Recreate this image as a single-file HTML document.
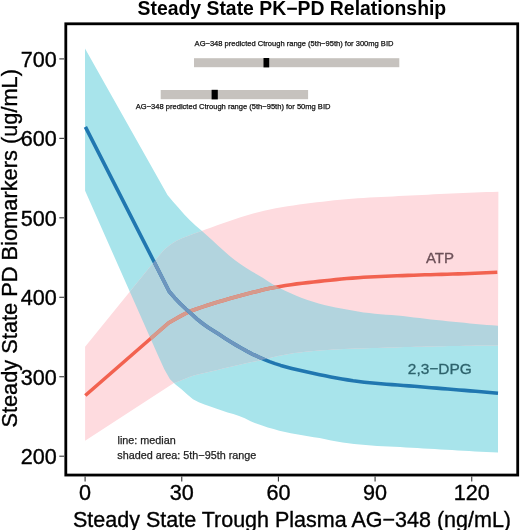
<!DOCTYPE html>
<html><head><meta charset="utf-8"><style>
html,body{margin:0;padding:0;background:#fff;width:520px;height:530px;overflow:hidden}
svg{display:block} #w{will-change:transform;width:520px;height:530px}
text{font-family:'Liberation Sans',sans-serif}
.tk{font-size:21.6px;fill:#000;stroke:#000;stroke-width:0.35px}
.ttl{font-size:19.4px;font-weight:bold;fill:#000}
.ax{font-size:21.5px;fill:#000;stroke:#000;stroke-width:0.35px}
.ann{font-size:7.55px;fill:#111;stroke:#111;stroke-width:0.25px}
.leg{font-size:10.8px;fill:#222;stroke:#222;stroke-width:0.25px}
.lab{font-size:15px;stroke-width:0.3px}
</style></head><body><div id="w">
<svg width="520" height="530" viewBox="0 0 520 530">
<defs>
<clipPath id="cB"><polygon points="85.0,48.6 167.5,195.1 173.1,201.7 178.7,208.1 184.3,214.4 189.9,220.3 195.5,225.4 201.1,230.2 206.7,235.2 212.3,240.3 217.9,245.4 223.5,250.6 229.1,255.6 234.7,260.0 240.3,264.0 245.9,267.8 251.5,271.3 257.1,274.4 262.7,277.8 268.3,281.4 273.9,284.9 279.5,288.0 285.1,290.7 290.7,293.3 296.3,295.7 301.9,298.1 307.5,300.0 313.1,301.8 318.7,303.5 324.3,304.9 329.9,306.3 335.6,307.5 341.2,308.6 346.8,309.6 352.4,310.5 358.0,311.5 363.6,312.4 369.2,313.1 374.8,313.8 380.4,314.2 386.0,314.7 391.6,315.1 397.2,315.5 402.8,316.1 408.4,316.7 414.0,317.4 419.6,318.0 425.2,318.7 430.8,319.4 436.4,320.0 442.0,320.6 447.6,321.2 453.2,321.7 458.8,322.3 464.4,322.8 470.0,323.4 475.6,323.9 481.2,324.4 486.8,324.9 492.4,325.3 498.0,325.8 498.0,452.5 492.2,452.2 486.5,451.9 480.7,451.7 475.0,451.4 469.2,451.1 463.5,450.7 457.7,450.4 452.0,450.1 446.2,449.8 440.5,449.4 434.7,449.1 428.9,448.7 423.2,448.4 417.4,448.1 411.7,447.7 405.9,447.4 400.2,447.1 394.4,446.8 388.7,446.5 382.9,446.3 377.2,446.0 371.4,445.6 365.7,445.1 359.9,444.6 354.1,444.0 348.4,443.3 342.6,442.4 336.9,441.5 331.1,440.4 325.4,439.2 319.6,438.1 313.9,437.2 308.1,436.3 302.4,435.3 296.6,434.3 290.8,433.3 285.1,432.1 279.3,430.7 273.6,429.1 267.8,427.4 262.1,425.6 256.3,423.6 250.6,421.2 244.8,418.3 239.1,415.9 233.3,414.0 227.6,412.4 221.8,410.5 216.0,408.6 210.3,406.6 204.5,404.6 198.8,402.3 193.0,399.2 187.3,394.4 181.5,389.3 175.8,384.8 170.0,379.3 164.3,369.3 158.5,356.4 85.1,190.8"/></clipPath>
<clipPath id="cP"><polygon points="85.1,346.8 152.7,263.5 158.6,256.2 164.4,249.6 170.3,244.7 176.1,241.1 182.0,238.3 187.9,236.0 193.7,233.8 199.6,231.7 205.4,229.6 211.3,227.4 217.2,225.3 223.0,223.2 228.9,221.2 234.7,219.2 240.6,217.3 246.4,215.5 252.3,213.8 258.2,212.2 264.0,210.8 269.9,209.5 275.7,208.3 281.6,207.3 287.5,206.3 293.3,205.4 299.2,204.6 305.0,203.8 310.9,203.1 316.8,202.3 322.6,201.7 328.5,201.0 334.3,200.3 340.2,199.7 346.1,199.2 351.9,198.7 357.8,198.3 363.6,197.9 369.5,197.6 375.4,197.3 381.2,196.9 387.1,196.7 392.9,196.4 398.8,196.1 404.7,195.8 410.5,195.6 416.4,195.3 422.2,195.0 428.1,194.7 433.9,194.3 439.8,194.0 445.7,193.7 451.5,193.5 457.4,193.2 463.2,193.0 469.1,192.8 475.0,192.5 480.8,192.3 486.7,192.1 492.5,192.0 498.4,191.8 498.0,345.4 492.5,345.4 487.0,345.5 481.5,345.6 476.0,345.6 470.5,345.7 465.0,345.8 459.5,345.9 454.0,346.0 448.5,346.1 443.0,346.2 437.5,346.3 432.0,346.4 426.5,346.6 421.0,346.7 415.5,346.8 410.0,347.0 404.5,347.1 399.0,347.2 393.5,347.4 388.0,347.6 382.5,347.8 377.0,347.9 371.5,348.1 366.0,348.3 360.5,348.4 355.0,348.6 349.5,348.8 344.0,349.0 338.5,349.3 333.0,349.6 327.5,349.9 322.0,350.3 316.5,350.7 311.0,351.2 305.5,351.7 300.0,352.4 294.5,353.1 289.0,353.9 283.5,354.9 278.0,355.9 272.5,357.3 267.0,358.7 261.5,360.0 256.0,361.2 250.5,362.3 245.0,363.5 239.5,364.7 234.0,366.0 228.5,367.2 223.0,368.5 217.5,369.9 212.0,371.3 206.5,372.6 201.0,373.8 195.5,375.1 190.0,376.8 184.5,379.1 179.0,381.2 173.5,383.2 85.1,440.8"/></clipPath>
</defs>
<rect width="520" height="530" fill="#fff"/>
<text x="137.5" y="14.5" class="ttl">Steady State PK−PD Relationship</text>
<polygon points="85.0,48.6 167.5,195.1 173.1,201.7 178.7,208.1 184.3,214.4 189.9,220.3 195.5,225.4 201.1,230.2 206.7,235.2 212.3,240.3 217.9,245.4 223.5,250.6 229.1,255.6 234.7,260.0 240.3,264.0 245.9,267.8 251.5,271.3 257.1,274.4 262.7,277.8 268.3,281.4 273.9,284.9 279.5,288.0 285.1,290.7 290.7,293.3 296.3,295.7 301.9,298.1 307.5,300.0 313.1,301.8 318.7,303.5 324.3,304.9 329.9,306.3 335.6,307.5 341.2,308.6 346.8,309.6 352.4,310.5 358.0,311.5 363.6,312.4 369.2,313.1 374.8,313.8 380.4,314.2 386.0,314.7 391.6,315.1 397.2,315.5 402.8,316.1 408.4,316.7 414.0,317.4 419.6,318.0 425.2,318.7 430.8,319.4 436.4,320.0 442.0,320.6 447.6,321.2 453.2,321.7 458.8,322.3 464.4,322.8 470.0,323.4 475.6,323.9 481.2,324.4 486.8,324.9 492.4,325.3 498.0,325.8 498.0,452.5 492.2,452.2 486.5,451.9 480.7,451.7 475.0,451.4 469.2,451.1 463.5,450.7 457.7,450.4 452.0,450.1 446.2,449.8 440.5,449.4 434.7,449.1 428.9,448.7 423.2,448.4 417.4,448.1 411.7,447.7 405.9,447.4 400.2,447.1 394.4,446.8 388.7,446.5 382.9,446.3 377.2,446.0 371.4,445.6 365.7,445.1 359.9,444.6 354.1,444.0 348.4,443.3 342.6,442.4 336.9,441.5 331.1,440.4 325.4,439.2 319.6,438.1 313.9,437.2 308.1,436.3 302.4,435.3 296.6,434.3 290.8,433.3 285.1,432.1 279.3,430.7 273.6,429.1 267.8,427.4 262.1,425.6 256.3,423.6 250.6,421.2 244.8,418.3 239.1,415.9 233.3,414.0 227.6,412.4 221.8,410.5 216.0,408.6 210.3,406.6 204.5,404.6 198.8,402.3 193.0,399.2 187.3,394.4 181.5,389.3 175.8,384.8 170.0,379.3 164.3,369.3 158.5,356.4 85.1,190.8" fill="rgb(168,228,235)"/>
<polygon points="85.1,346.8 152.7,263.5 158.6,256.2 164.4,249.6 170.3,244.7 176.1,241.1 182.0,238.3 187.9,236.0 193.7,233.8 199.6,231.7 205.4,229.6 211.3,227.4 217.2,225.3 223.0,223.2 228.9,221.2 234.7,219.2 240.6,217.3 246.4,215.5 252.3,213.8 258.2,212.2 264.0,210.8 269.9,209.5 275.7,208.3 281.6,207.3 287.5,206.3 293.3,205.4 299.2,204.6 305.0,203.8 310.9,203.1 316.8,202.3 322.6,201.7 328.5,201.0 334.3,200.3 340.2,199.7 346.1,199.2 351.9,198.7 357.8,198.3 363.6,197.9 369.5,197.6 375.4,197.3 381.2,196.9 387.1,196.7 392.9,196.4 398.8,196.1 404.7,195.8 410.5,195.6 416.4,195.3 422.2,195.0 428.1,194.7 433.9,194.3 439.8,194.0 445.7,193.7 451.5,193.5 457.4,193.2 463.2,193.0 469.1,192.8 475.0,192.5 480.8,192.3 486.7,192.1 492.5,192.0 498.4,191.8 498.0,345.4 492.5,345.4 487.0,345.5 481.5,345.6 476.0,345.6 470.5,345.7 465.0,345.8 459.5,345.9 454.0,346.0 448.5,346.1 443.0,346.2 437.5,346.3 432.0,346.4 426.5,346.6 421.0,346.7 415.5,346.8 410.0,347.0 404.5,347.1 399.0,347.2 393.5,347.4 388.0,347.6 382.5,347.8 377.0,347.9 371.5,348.1 366.0,348.3 360.5,348.4 355.0,348.6 349.5,348.8 344.0,349.0 338.5,349.3 333.0,349.6 327.5,349.9 322.0,350.3 316.5,350.7 311.0,351.2 305.5,351.7 300.0,352.4 294.5,353.1 289.0,353.9 283.5,354.9 278.0,355.9 272.5,357.3 267.0,358.7 261.5,360.0 256.0,361.2 250.5,362.3 245.0,363.5 239.5,364.7 234.0,366.0 228.5,367.2 223.0,368.5 217.5,369.9 212.0,371.3 206.5,372.6 201.0,373.8 195.5,375.1 190.0,376.8 184.5,379.1 179.0,381.2 173.5,383.2 85.1,440.8" fill="rgb(254,219,223)"/>
<polygon points="85.1,346.8 152.7,263.5 158.6,256.2 164.4,249.6 170.3,244.7 176.1,241.1 182.0,238.3 187.9,236.0 193.7,233.8 199.6,231.7 205.4,229.6 211.3,227.4 217.2,225.3 223.0,223.2 228.9,221.2 234.7,219.2 240.6,217.3 246.4,215.5 252.3,213.8 258.2,212.2 264.0,210.8 269.9,209.5 275.7,208.3 281.6,207.3 287.5,206.3 293.3,205.4 299.2,204.6 305.0,203.8 310.9,203.1 316.8,202.3 322.6,201.7 328.5,201.0 334.3,200.3 340.2,199.7 346.1,199.2 351.9,198.7 357.8,198.3 363.6,197.9 369.5,197.6 375.4,197.3 381.2,196.9 387.1,196.7 392.9,196.4 398.8,196.1 404.7,195.8 410.5,195.6 416.4,195.3 422.2,195.0 428.1,194.7 433.9,194.3 439.8,194.0 445.7,193.7 451.5,193.5 457.4,193.2 463.2,193.0 469.1,192.8 475.0,192.5 480.8,192.3 486.7,192.1 492.5,192.0 498.4,191.8 498.0,345.4 492.5,345.4 487.0,345.5 481.5,345.6 476.0,345.6 470.5,345.7 465.0,345.8 459.5,345.9 454.0,346.0 448.5,346.1 443.0,346.2 437.5,346.3 432.0,346.4 426.5,346.6 421.0,346.7 415.5,346.8 410.0,347.0 404.5,347.1 399.0,347.2 393.5,347.4 388.0,347.6 382.5,347.8 377.0,347.9 371.5,348.1 366.0,348.3 360.5,348.4 355.0,348.6 349.5,348.8 344.0,349.0 338.5,349.3 333.0,349.6 327.5,349.9 322.0,350.3 316.5,350.7 311.0,351.2 305.5,351.7 300.0,352.4 294.5,353.1 289.0,353.9 283.5,354.9 278.0,355.9 272.5,357.3 267.0,358.7 261.5,360.0 256.0,361.2 250.5,362.3 245.0,363.5 239.5,364.7 234.0,366.0 228.5,367.2 223.0,368.5 217.5,369.9 212.0,371.3 206.5,372.6 201.0,373.8 195.5,375.1 190.0,376.8 184.5,379.1 179.0,381.2 173.5,383.2 85.1,440.8" fill="rgb(178,212,222)" clip-path="url(#cB)"/>
<polyline points="85.3,395.5 168.5,323.0 174.1,319.7 179.6,316.6 185.2,313.6 190.8,311.0 196.4,309.0 201.9,307.1 207.5,305.3 213.1,303.5 218.7,301.8 224.2,300.2 229.8,298.6 235.4,297.1 240.9,295.6 246.5,294.1 252.1,292.6 257.7,291.2 263.2,289.8 268.8,288.6 274.4,287.5 280.0,286.5 285.5,285.5 291.1,284.7 296.7,283.9 302.2,283.2 307.8,282.6 313.4,282.0 319.0,281.4 324.5,280.8 330.1,280.2 335.7,279.6 341.3,279.0 346.8,278.5 352.4,278.1 358.0,277.7 363.6,277.3 369.1,277.0 374.7,276.7 380.3,276.5 385.8,276.3 391.4,276.0 397.0,275.8 402.6,275.6 408.1,275.4 413.7,275.2 419.3,275.0 424.9,274.8 430.4,274.7 436.0,274.5 441.6,274.4 447.1,274.2 452.7,274.0 458.3,273.9 463.9,273.7 469.4,273.5 475.0,273.2 480.6,273.0 486.2,272.8 491.7,272.5 497.3,272.3" fill="none" stroke="rgb(242,98,80)" stroke-width="3.6" stroke-linejoin="round"/>
<polyline points="85.3,395.5 168.5,323.0 174.1,319.7 179.6,316.6 185.2,313.6 190.8,311.0 196.4,309.0 201.9,307.1 207.5,305.3 213.1,303.5 218.7,301.8 224.2,300.2 229.8,298.6 235.4,297.1 240.9,295.6 246.5,294.1 252.1,292.6 257.7,291.2 263.2,289.8 268.8,288.6 274.4,287.5 280.0,286.5 285.5,285.5 291.1,284.7 296.7,283.9 302.2,283.2 307.8,282.6 313.4,282.0 319.0,281.4 324.5,280.8 330.1,280.2 335.7,279.6 341.3,279.0 346.8,278.5 352.4,278.1 358.0,277.7 363.6,277.3 369.1,277.0 374.7,276.7 380.3,276.5 385.8,276.3 391.4,276.0 397.0,275.8 402.6,275.6 408.1,275.4 413.7,275.2 419.3,275.0 424.9,274.8 430.4,274.7 436.0,274.5 441.6,274.4 447.1,274.2 452.7,274.0 458.3,273.9 463.9,273.7 469.4,273.5 475.0,273.2 480.6,273.0 486.2,272.8 491.7,272.5 497.3,272.3" fill="none" stroke="rgb(214,154,140)" stroke-width="3.6" stroke-linejoin="round" clip-path="url(#cB)"/>
<polyline points="85.4,126.9 169.2,291.5 174.8,297.9 180.3,303.7 185.9,309.0 191.5,314.0 197.1,319.1 202.6,323.5 208.2,327.4 213.8,331.0 219.4,334.6 224.9,338.2 230.5,341.7 236.1,345.1 241.6,348.3 247.2,351.4 252.8,354.3 258.4,356.9 263.9,359.3 269.5,361.6 275.1,363.6 280.7,365.4 286.2,366.9 291.8,368.4 297.4,369.8 302.9,371.1 308.5,372.3 314.1,373.5 319.7,374.7 325.2,375.8 330.8,376.9 336.4,378.0 342.0,379.0 347.5,379.9 353.1,380.8 358.7,381.5 364.3,382.2 369.8,382.8 375.4,383.3 381.0,383.8 386.5,384.2 392.1,384.6 397.7,385.0 403.3,385.5 408.8,385.9 414.4,386.3 420.0,386.8 425.6,387.2 431.1,387.7 436.7,388.1 442.3,388.6 447.8,389.0 453.4,389.5 459.0,390.0 464.6,390.4 470.1,390.9 475.7,391.3 481.3,391.8 486.9,392.3 492.4,392.7 498.0,393.2" fill="none" stroke="rgb(32,119,176)" stroke-width="3.6" stroke-linejoin="round"/>
<polyline points="85.4,126.9 169.2,291.5 174.8,297.9 180.3,303.7 185.9,309.0 191.5,314.0 197.1,319.1 202.6,323.5 208.2,327.4 213.8,331.0 219.4,334.6 224.9,338.2 230.5,341.7 236.1,345.1 241.6,348.3 247.2,351.4 252.8,354.3 258.4,356.9 263.9,359.3 269.5,361.6 275.1,363.6 280.7,365.4 286.2,366.9 291.8,368.4 297.4,369.8 302.9,371.1 308.5,372.3 314.1,373.5 319.7,374.7 325.2,375.8 330.8,376.9 336.4,378.0 342.0,379.0 347.5,379.9 353.1,380.8 358.7,381.5 364.3,382.2 369.8,382.8 375.4,383.3 381.0,383.8 386.5,384.2 392.1,384.6 397.7,385.0 403.3,385.5 408.8,385.9 414.4,386.3 420.0,386.8 425.6,387.2 431.1,387.7 436.7,388.1 442.3,388.6 447.8,389.0 453.4,389.5 459.0,390.0 464.6,390.4 470.1,390.9 475.7,391.3 481.3,391.8 486.9,392.3 492.4,392.7 498.0,393.2" fill="none" stroke="rgb(110,150,190)" stroke-width="3.6" stroke-linejoin="round" clip-path="url(#cP)"/>
<text x="425.9" y="262.8" class="lab" fill="rgb(108,80,88)" stroke="rgb(108,80,88)">ATP</text>
<text x="407.8" y="374.0" class="lab" style="font-size:15.45px" fill="rgb(45,98,108)" stroke="rgb(45,98,108)">2,3−DPG</text>
<rect x="194" y="58.2" width="205.3" height="9" fill="rgb(198,194,190)"/>
<rect x="263.5" y="58" width="5.7" height="9.4" fill="#000"/>
<text x="194.6" y="45.8" class="ann">AG−348 predicted Ctrough range (5th−95th) for 300mg BID</text>
<rect x="160.7" y="90" width="147.4" height="9.2" fill="rgb(198,194,190)"/>
<rect x="211.6" y="89.8" width="6.2" height="9.6" fill="#000"/>
<text x="135.8" y="109.3" class="ann">AG−348 predicted Ctrough range (5th−95th) for 50mg BID</text>
<text x="117.5" y="443.6" class="leg">line: median</text>
<text x="117.3" y="459.3" class="leg">shaded area: 5th−95th range</text>
<rect x="65.8" y="23.8" width="451.9" height="451.25" fill="none" stroke="#000" stroke-width="2.8"/>
<line x1="59.3" y1="456.20" x2="64" y2="456.20" stroke="#333" stroke-width="1.1"/>
<text x="56.8" y="464.10" text-anchor="end" class="tk">200</text>
<line x1="59.3" y1="376.74" x2="64" y2="376.74" stroke="#333" stroke-width="1.1"/>
<text x="56.8" y="384.64" text-anchor="end" class="tk">300</text>
<line x1="59.3" y1="297.28" x2="64" y2="297.28" stroke="#333" stroke-width="1.1"/>
<text x="56.8" y="305.18" text-anchor="end" class="tk">400</text>
<line x1="59.3" y1="217.82" x2="64" y2="217.82" stroke="#333" stroke-width="1.1"/>
<text x="56.8" y="225.72" text-anchor="end" class="tk">500</text>
<line x1="59.3" y1="138.36" x2="64" y2="138.36" stroke="#333" stroke-width="1.1"/>
<text x="56.8" y="146.26" text-anchor="end" class="tk">600</text>
<line x1="59.3" y1="58.90" x2="64" y2="58.90" stroke="#333" stroke-width="1.1"/>
<text x="56.8" y="66.80" text-anchor="end" class="tk">700</text>
<line x1="85.10" y1="476.5" x2="85.10" y2="481.5" stroke="#333" stroke-width="1.1"/>
<text x="85.10" y="500" text-anchor="middle" class="tk">0</text>
<line x1="181.76" y1="476.5" x2="181.76" y2="481.5" stroke="#333" stroke-width="1.1"/>
<text x="181.76" y="500" text-anchor="middle" class="tk">30</text>
<line x1="278.42" y1="476.5" x2="278.42" y2="481.5" stroke="#333" stroke-width="1.1"/>
<text x="278.42" y="500" text-anchor="middle" class="tk">60</text>
<line x1="375.08" y1="476.5" x2="375.08" y2="481.5" stroke="#333" stroke-width="1.1"/>
<text x="375.08" y="500" text-anchor="middle" class="tk">90</text>
<line x1="471.74" y1="476.5" x2="471.74" y2="481.5" stroke="#333" stroke-width="1.1"/>
<text x="471.74" y="500" text-anchor="middle" class="tk">120</text>

<text x="73" y="526.6" class="ax">Steady State Trough Plasma AG−348 (ng/mL)</text>
<text transform="translate(16.5,427.6) rotate(-90)" x="0" y="0" class="ax" style="font-size:21.8px">Steady State PD Biomarkers (ug/mL)</text>
</svg></div>
</body></html>
